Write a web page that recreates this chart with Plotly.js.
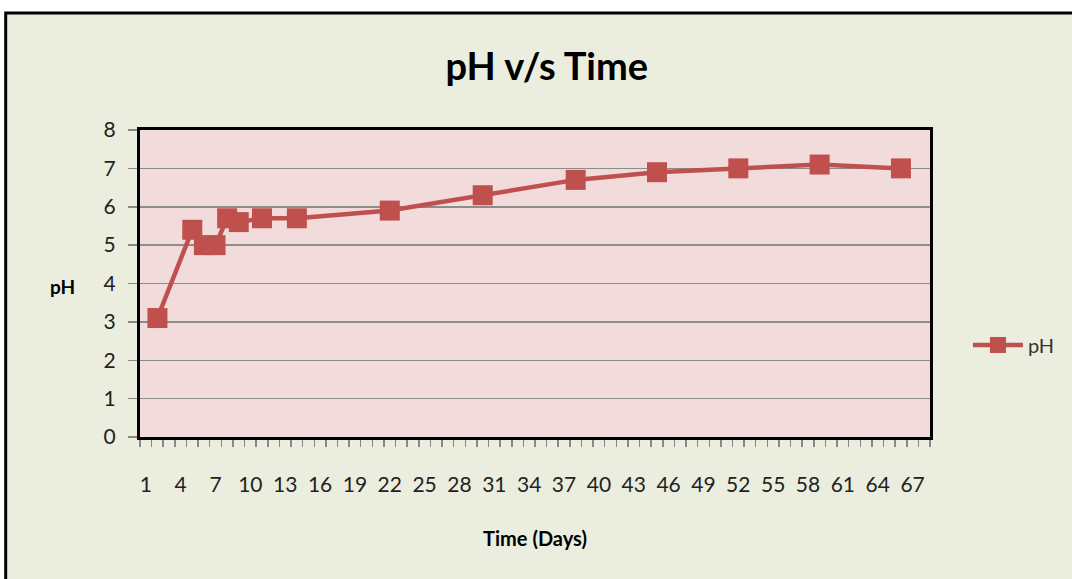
<!DOCTYPE html>
<html>
<head>
<meta charset="utf-8">
<script src="https://cdn.plot.ly/plotly-3.0.1.min.js"></script>
<style>html,body{margin:0;padding:0;background:#fff;}#chart{width:1072px;height:579px;}</style>
</head>
<body>
<div id="chart"></div>
<script>
const days = [2, 5, 6, 7, 8, 9, 11, 14, 22, 30, 38, 45, 52, 59, 66];
const phValues = [3.1, 5.4, 5.0, 5.0, 5.7, 5.6, 5.7, 5.7, 5.9, 6.3, 6.7, 6.9, 7.0, 7.1, 7.0];
const seriesName = 'pH';
const chartTitle = 'pH v/s Time';
const xTitle = 'Time (Days)';
const yTitle = 'pH';

const FONT = 'Lato, "Open Sans", sans-serif';
const RED = '#C0504D';

const trace = {
  x: days, y: phValues, name: seriesName, type: 'scatter', mode: 'lines+markers',
  line: {color: RED, width: 4.5},
  marker: {symbol: 'square', size: 20, color: RED}
};

const layout = {
  width: 1072, height: 579,
  margin: {l: 140, r: 142, t: 130, b: 142, autoexpand: false},
  paper_bgcolor: '#ffffff',
  plot_bgcolor: 'rgba(0,0,0,0)',
  showlegend: true,
  legend: {
    x: 1.048, y: 0.30, xanchor: 'left', yanchor: 'middle',
    font: {family: FONT, size: 20, color: '#333'},
    bgcolor: 'rgba(0,0,0,0)', itemwidth: 50
  },
  title: {
    text: '<b>' + chartTitle + '</b>',
    font: {family: FONT, size: 38, color: '#000'},
    x: 0.515, xanchor: 'center', xref: 'paper',
    y: 0.885, yanchor: 'middle', yref: 'container'
  },
  xaxis: {
    range: [0.5, 68.5], tickmode: 'linear', tick0: 1, dtick: 3,
    ticks: '', showgrid: false, zeroline: false,
    showline: true, mirror: true, linecolor: '#000', linewidth: 3,
    tickfont: {family: FONT, size: 21, color: '#222'},
    ticklabelstandoff: 27,
    minor: {ticks: 'outside', tick0: 0.5, dtick: 1, ticklen: 7, tickcolor: '#888', tickwidth: 1.5, showgrid: false},
    title: {text: '<b>' + xTitle + '</b>', font: {family: FONT, size: 20, color: '#000'}, standoff: 37}
  },
  yaxis: {
    range: [0, 8], tickmode: 'linear', tick0: 0, dtick: 1,
    ticks: 'outside', ticklen: 9, tickcolor: '#888', tickwidth: 1.5,
    showgrid: true, gridcolor: '#8c8c8c', gridwidth: 1.5, zeroline: false,
    showline: true, mirror: true, linecolor: '#000', linewidth: 3,
    tickfont: {family: FONT, size: 21, color: '#222'},
    ticklabelstandoff: 8
  },
  shapes: [
    {type: 'rect', xref: 'paper', yref: 'paper', layer: 'below',
     x0: -0.17, x1: 1.3, y0: -0.6, y1: 1.381,
     fillcolor: '#EBEEDF', line: {color: '#000', width: 3}},
    {type: 'rect', xref: 'paper', yref: 'paper', layer: 'below',
     x0: 0, x1: 1, y0: 0, y1: 1,
     fillcolor: '#F2DCDB', line: {width: 0}}
  ],
  annotations: [
    {text: '<b>' + yTitle + '</b>', xref: 'paper', yref: 'paper',
     x: -0.0975, y: 0.489, xanchor: 'center', yanchor: 'middle', showarrow: false,
     font: {family: FONT, size: 19, color: '#000'}}
  ]
};

Plotly.newPlot('chart', [trace], layout, {displayModeBar: false, staticPlot: true});
</script>
</body>
</html>
